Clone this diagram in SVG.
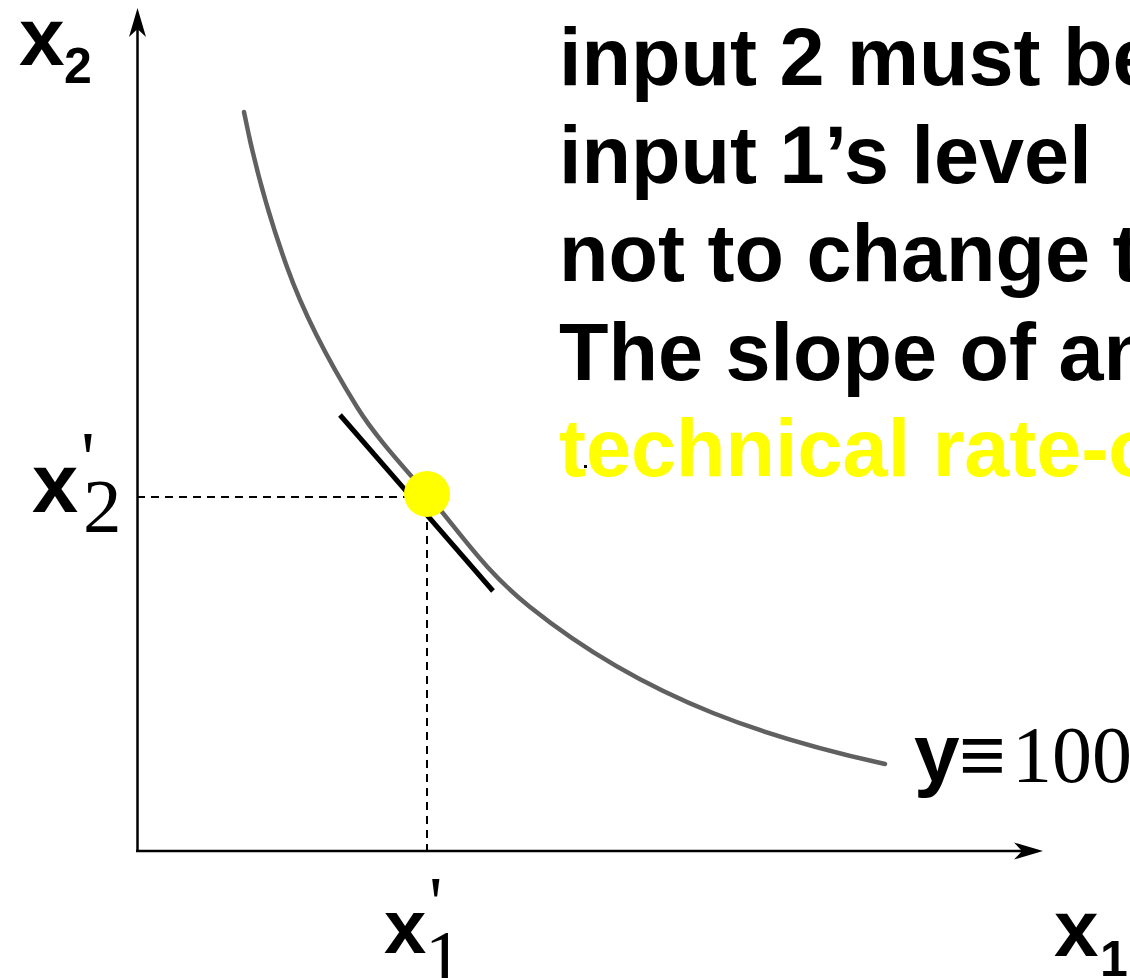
<svg xmlns="http://www.w3.org/2000/svg" width="1130" height="978" viewBox="0 0 1130 978">
<style>
.sans{font-family:"Liberation Sans",Arial,sans-serif;font-weight:bold;fill:#000}
.serif{font-family:"Liberation Serif","Times New Roman",serif;fill:#000}
.main{font-size:81px}
.axis{stroke:#000;stroke-width:2.5;fill:none}
.dash{stroke:#000;stroke-width:2;stroke-dasharray:8 6;fill:none}
</style>
<defs>
<marker id="arr" viewBox="0 -9 30 18" refX="8" refY="0" markerWidth="30" markerHeight="18" markerUnits="userSpaceOnUse" orient="auto">
<path d="M29,0 L0,-8.5 L8,0 L0,8.5 Z" fill="#000"/>
</marker>
</defs>
<rect width="1130" height="978" fill="#fff"/>
<g id="connectors">
<line class="axis" x1="137.5" y1="852" x2="137.5" y2="29" marker-end="url(#arr)"/>
<line class="axis" x1="136" y1="851" x2="1022" y2="851" marker-end="url(#arr)"/>
<line class="dash" x1="137" y1="497" x2="427" y2="497"/>
<line class="dash" x1="427" y1="494" x2="427" y2="851"/>
</g>
<g id="isoquant">
<path d="M244,112 C254.3,164.3 268.5,215.7 287,267 C303.8,313.7 328,360.3 357,407 C375,436 401.8,465 427,494 C459.8,531.7 482.9,569.3 530,607 C584.6,650.8 648,687 713,713 C768.7,735.3 826.4,751 885,764" fill="none" stroke="#606060" stroke-width="4.5" stroke-linecap="round"/>
</g>
<g id="tangent">
<line x1="340" y1="415" x2="493" y2="591" stroke="#000" stroke-width="5"/>
</g>
<g id="point">
<circle cx="427" cy="494" r="23" fill="#ffff00"/>
</g>
<g id="text-block">
<text class="sans main" x="559" y="85">input 2 must be</text>
<text class="sans main" x="559" y="183">input 1’s level</text>
<text class="sans main" x="559" y="281">not to change the</text>
<text class="sans main" x="559" y="380">The slope of an</text>
<rect x="584" y="465" width="3" height="3" fill="#000"/>
<text class="sans main" x="559" y="476" style="fill:#ffff00">technical rate-of</text>
</g>
<g id="label-x2">
<text class="sans" x="19" y="65" font-size="82">x</text>
<text class="sans" x="64" y="83" font-size="50">2</text>
</g>
<g id="label-x2prime">
<text class="sans" x="32" y="512" font-size="83">x</text>
<text class="serif" x="81" y="484" font-size="77">'</text>
<text class="serif" x="83" y="532" font-size="77">2</text>
</g>
<g id="label-x1prime">
<text class="sans" x="384" y="953" font-size="76">x</text>
<text class="serif" x="429" y="928" font-size="75">'</text>
<text class="serif" x="425" y="982" font-size="75">1</text>
</g>
<g id="label-x1">
<text class="sans" x="1054" y="956" font-size="80">x</text>
<text class="sans" x="1100" y="976" font-size="50">1</text>
</g>
<g id="label-y">
<text class="sans" x="914" y="781" font-size="82">y</text>
<text class="sans" x="959" y="782" font-size="80">≡</text>
<text class="serif" x="1012" y="782" font-size="80">100</text>
</g>
</svg>
